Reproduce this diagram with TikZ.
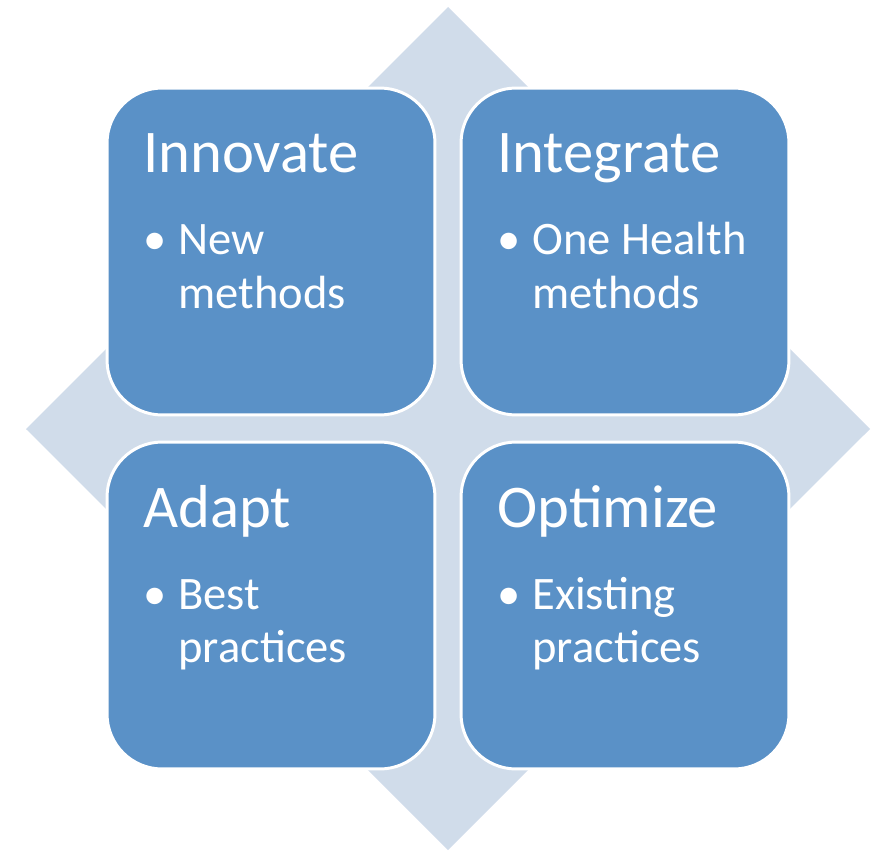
\documentclass[tikz,border=0pt]{standalone}
\usepackage{fontspec}
\setmainfont{Carlito}
\definecolor{cardblue}{HTML}{5A91C7}
\definecolor{diamondgrey}{HTML}{D0DCEA}
\begin{document}
\begin{tikzpicture}[
			x=0.02cm, y=-0.02cm,
			card/.style={draw=white, line width=1.7pt, fill=cardblue, rounded corners=1.1cm,
					minimum width=6.56cm, minimum height=6.54cm, inner sep=0pt},
			heading/.style={text=white, anchor=base west, inner sep=0pt,
					font=\fontsize{34.5}{41}\selectfont},
			item/.style={text=white, anchor=base west, inner sep=0pt,
					font=\fontsize{26.5}{32}\selectfont}
		]
		\useasboundingbox (0,0) rectangle (882,851);
		\fill[diamondgrey] (448,7) -- (870,429) -- (448,850) -- (26,429) -- cycle;
		\foreach \x/\y/\name/\head/\one/\two in {
				107/88/innovate/Innovate/New/methods,
				461/88/integrate/Integrate/One Health/methods,
				107/442/adapt/Adapt/Best/practices,
				461/442/optimize/Optimize/Existing/practices}{
				\node[card] (\name) at (\x+164,\y+163.5) {};
				\node[heading] (\name-head) at (\x+36,\y+85) {\head};
				\node[item] (\name-dot) at (\x+36,\y+167) {\textbullet};
				\node[item] (\name-one) at (\x+71,\y+167) {\one};
				\node[item] (\name-two) at (\x+71,\y+220) {\two};
			}
	\end{tikzpicture}
\end{document}
